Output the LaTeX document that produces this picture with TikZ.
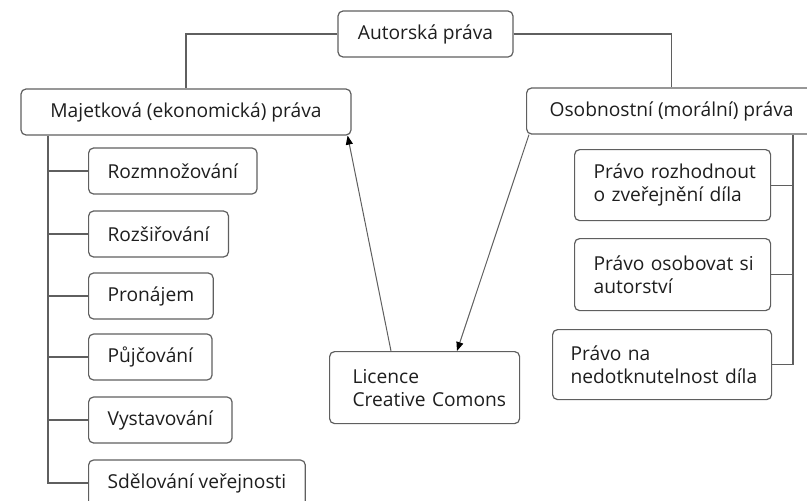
\documentclass[tikz,border=0pt]{standalone}
\usepackage{fontspec}
\setmainfont{Open Sans}
\usetikzlibrary{arrows.meta}
\definecolor{linegray}{RGB}{95,95,95}
\definecolor{textgray}{RGB}{30,30,30}

\begin{document}
\begin{tikzpicture}[x=1pt,y=1pt,yscale=-1,
  box/.style={draw=linegray, line width=1.2pt, rounded corners=5pt, minimum height=46pt, inner xsep=19pt, text=textgray, font=\fontsize{19.2}{23}\selectfont},
  leaf/.style={box, anchor=west},
  twoline/.style={box, anchor=north west, align=left},
  conn/.style={draw=linegray, line width=1.2pt},
  link/.style={draw=linegray, line width=1pt, -{Triangle[length=9pt,width=7pt,black]}}]
\useasboundingbox (0,0) rectangle (807,501);

% Top node
\node[box, minimum width=175pt] (aut) at (425.5,34) {Autorská práva};
% Main branches
\node[box, minimum width=330pt] (maj) at (186,112) {Majetková (ekonomická) práva};
\node[box, minimum width=290pt, anchor=west] (oso) at (526,111) {Osobnostní (morální) práva};

% Left leaves
\node[leaf] (rozm) at (88,171) {Rozmnožování};
\node[leaf] (rozs) at (88,234) {Rozšiřování};
\node[leaf] (pron) at (88,296) {Pronájem};
\node[leaf] (pujc) at (88,357) {Půjčování};
\node[leaf] (vyst) at (88,420) {Vystavování};
\node[leaf] (sdel) at (88,483) {Sdělování veřejnosti};

% Right leaves
\node[twoline, minimum width=196pt, minimum height=71pt, inner xsep=19pt, text width=158pt] (rozh) at (574,149) {\mbox{Právo rozhodnout}\\\mbox{o zveřejnění díla}};
\node[twoline, minimum width=196pt, minimum height=72pt, inner xsep=19pt, text width=158pt] (osob) at (574,238) {\mbox{Právo osobovat si}\\autorství};
\node[twoline, minimum width=219pt, minimum height=70pt, inner xsep=18pt, text width=183pt] (nedo) at (552,329) {Právo na\\\mbox{nedotknutelnost díla}};

% Licence
\node[twoline, minimum width=190pt, minimum height=72pt, inner xsep=23pt, text width=144pt] (lic) at (329,351) {Licence\\\mbox{Creative Comons}};

% Connectors
\coordinate (lbus) at (48,0);
\coordinate (rbus) at (793,0);
\draw[conn] (aut.west) -| (maj.north);
\draw[conn] (aut.east) -| (oso.north);
\draw[conn] (maj.south -| lbus) |- (sdel.west);
\foreach \n in {rozm,rozs,pron,pujc,vyst}
  \draw[conn] (\n.west) -- (\n.west -| lbus);
\draw[conn] (oso.south -| rbus) |- (nedo.east);
\foreach \n in {rozh,osob}
  \draw[conn] (\n.east) -- (\n.east -| rbus);

% Arrows
\draw[link] ([xshift=62pt]lic.north west) -- ([xshift=-4pt]maj.south east);
\draw[link] ([xshift=3pt]oso.south west) -- ([xshift=128pt]lic.north west);

\end{tikzpicture}
\end{document}
